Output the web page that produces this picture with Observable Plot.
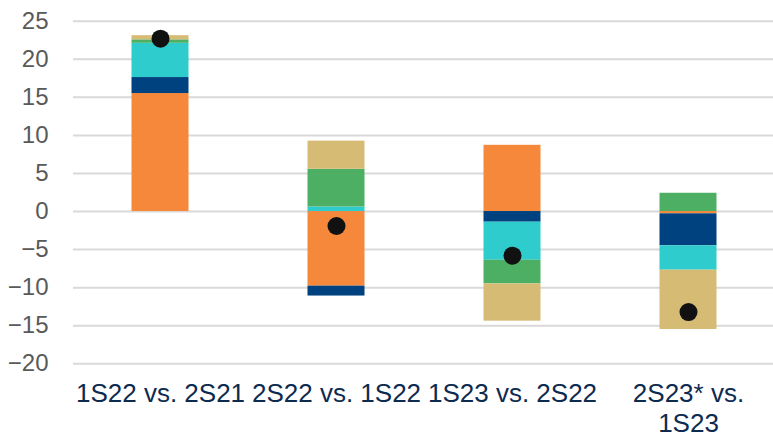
<!DOCTYPE html>
<html>
<head>
<meta charset="utf-8">
<script src="https://cdn.jsdelivr.net/npm/d3@7"></script>
<script src="https://cdn.jsdelivr.net/npm/@observablehq/plot@0.6"></script>
<style>
  html, body { margin: 0; padding: 0; background: #fff; }
  #chart svg { display: block; }
</style>
</head>
<body>
<div id="chart"></div>
<script>
const categories = ["1S22 vs. 2S21", "2S22 vs. 1S22", "1S23 vs. 2S22", "2S23* vs.\n1S23"];
const seriesNames = ["s1", "s2", "s3", "s4", "s5"];
const seriesColors = ["#F5883B", "#00427F", "#2ECCCC", "#4CAF64", "#D6BB75"];
const s1 = [15.5, -9.8, 8.7, -0.3];
const s2 = [2.1, -1.3, -1.4, -4.2];
const s3 = [4.5, 0.6, -5.0, -3.2];
const s4 = [0.45, 4.95, -3.1, 2.4];
const s5 = [0.55, 3.7, -4.9, -7.8];
const totals = [22.7, -1.9, -5.8, -13.2];
const yTicks = [-20, -15, -10, -5, 0, 5, 10, 15, 20, 25];

const seriesValues = [s1, s2, s3, s4, s5];
const rows = [];
categories.forEach((c, i) => {
  seriesNames.forEach((s, j) => rows.push({cat: c, series: s, value: seriesValues[j][i]}));
});
const dots = categories.map((c, i) => ({cat: c, value: totals[i]}));

const chart = Plot.plot({
  width: 773,
  height: 434,
  marginLeft: 73,
  marginRight: 0,
  marginTop: 20.7,
  marginBottom: 70.7,
  style: {fontFamily: "'Liberation Sans', Arial, sans-serif", background: "#fff"},
  x: {domain: categories, range: [72, 776], padding: 0},
  y: {domain: [-20, 25]},
  color: {domain: seriesNames, range: seriesColors},
  marks: [
    Plot.ruleY(yTicks, {stroke: "#d9d9d9", strokeWidth: 2}),
    Plot.barY(rows, Plot.stackY({x: "cat", y: "value", fill: "series", insetLeft: 59.5, insetRight: 59.5})),
    Plot.dot(dots, {x: "cat", y: "value", r: 9, fill: "#111111"}),
    Plot.axisY({ticks: yTicks, tickSize: 0, tickPadding: 25, fontSize: 24, fill: "#595959", label: null}),
    Plot.axisX({tickSize: 0, tickPadding: 18, fontSize: 26, fill: "#0d2a4f", lineHeight: 1.12, label: null})
  ]
});
document.getElementById("chart").appendChild(chart);
</script>
</body>
</html>
